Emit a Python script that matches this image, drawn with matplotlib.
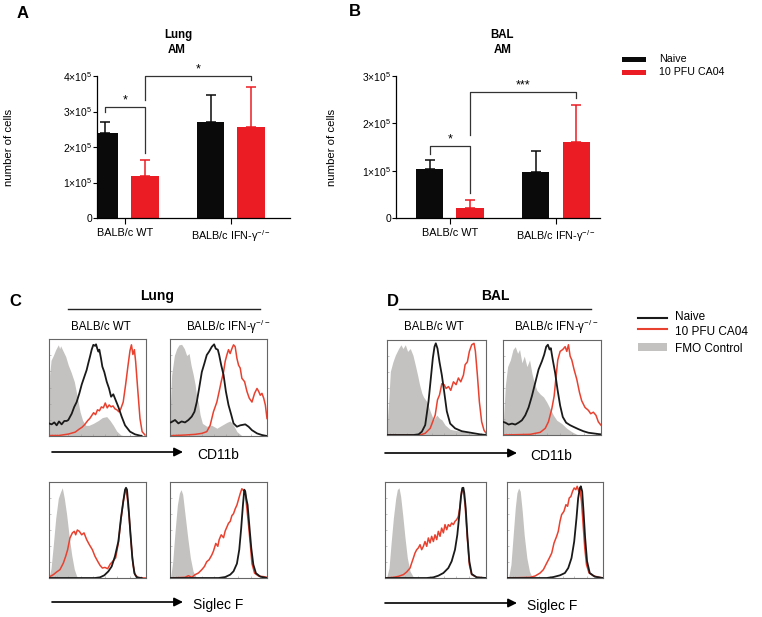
import numpy as np
import matplotlib
matplotlib.use('Agg')
import matplotlib.pyplot as plt
from matplotlib.patches import Rectangle
from matplotlib.lines import Line2D

plt.rcParams['font.family'] = ['Liberation Sans', 'DejaVu Sans']
plt.rcParams['mathtext.fontset'] = 'custom'
plt.rcParams['mathtext.rm'] = 'Liberation Sans'
plt.rcParams['mathtext.it'] = 'Liberation Sans:italic'
plt.rcParams['mathtext.bf'] = 'Liberation Sans:bold'
plt.rcParams['mathtext.default'] = 'regular'

W, H = 762, 617

# ---- data: bar charts (cells) ----
groups = ['BALB/c WT', 'BALB/c IFN-γ$^{-/-}$']
lung_naive = [2.40e5, 2.70e5]
lung_naive_err = [0.30e5, 0.77e5]
lung_ca04 = [1.18e5, 2.57e5]
lung_ca04_err = [0.45e5, 1.13e5]
bal_naive = [1.04e5, 0.97e5]
bal_naive_err = [0.19e5, 0.45e5]
bal_ca04 = [0.21e5, 1.60e5]
bal_ca04_err = [0.17e5, 0.79e5]

# ---- data: flow histograms (x = % of axis, y = % of max) ----
c1_gray = [(0,0),(0.7,63),(2.1,78),(4.5,83),(6.9,89),(9.6,94),(11,90),(12,93),(14.8,87),(17.2,82),(19.9,73),(22.7,66),(26.1,56),(29.2,40),(32,25),(34.7,16),(37.8,11),(41.2,11),(45.7,13),(50.9,16),(55,19),(59.5,20),(62.9,16),(66.3,11),(69.8,5),(74.2,1),(78.4,0)]
c1_black = [(0,13),(2.7,12),(5.5,14),(7.9,11),(10.3,15),(13,12),(15.8,15.5),(18.2,15.5),(19.9,16.5),(23.4,23),(26,30),(28.5,35),(31.3,44),(33.7,53),(36.4,61),(38.8,68),(40.5,75),(42.3,82),(44,89),(45.7,94),(47.4,93),(48.5,94.5),(49.8,90),(50.9,87),(51.9,89),(53.6,80),(55,71.5),(57,66),(59.5,56),(61.9,49),(64,40.5),(66.3,43),(68.7,37),(71.5,30),(74.9,20),(78.4,11),(83.5,4.5),(88.7,1.7),(95.5,0)]
c1_red = [(0,0.5),(10,0.5),(20,2),(27,4),(31,7),(34,9),(37,12),(40,16),(42,18),(44,21),(46,24),(48,22),(50,27),(52,26),(54,30),(56,29),(58,34),(60,29),(62,32),(64,30),(66,31),(68,28),(70,27),(72,25),(74,28),(76.5,35),(79,53),(81.5,73),(83.5,88),(85,94),(86.5,84),(88,89),(89.3,77),(91.4,49),(93.8,18),(96,4.5),(99,1)]

c2_gray = [(0,0),(0.3,30),(1.7,63),(4.5,83),(6.9,90),(9.3,94),(12,94.5),(14.8,90),(17.2,83),(19.7,85),(21.7,73),(24,63),(25.9,53),(27.6,40),(29.3,34),(31,22),(33.4,13),(37.9,10),(43.1,11),(48.3,8),(53.4,11),(58.6,14),(62,15.5),(65.5,11),(69,4.5),(74.1,0.3)]
c2_black = [(0,14),(1,14),(5.2,16.5),(8.6,13),(12,15),(15.5,14),(19,16.5),(22.4,20),(25.2,25),(27.6,35),(30,49),(32.8,66),(35.5,75),(37.9,83.5),(40.3,87),(43.1,92),(45.5,94.5),(47.2,90),(49.3,89),(50.7,83.5),(52.8,73),(55.2,63),(57.6,46),(60.3,32),(63.1,22),(65.5,13),(69,9.6),(72.4,11),(77.6,12),(81,9.6),(84.5,6),(89.7,2.7),(94.8,1),(100,0)]
c2_red = [(0,0.3),(15.5,1),(25.9,1.7),(32.8,2.7),(37.9,4.5),(41.4,11),(44.8,25),(48.3,35),(50.7,46),(52.8,56),(55.2,66),(56.9,77),(58.6,83.5),(60.3,89),(62,85),(63.8,90),(65.5,94),(67.2,92),(69,80),(70.7,73),(72.4,70),(74.1,59.5),(76.9,56),(79.3,46),(81.7,39),(84.5,35),(87.2,44),(89.7,49),(91.4,46),(93.1,42),(94.8,44),(96.6,39),(98.3,32),(100,18)]

d1_gray = [(0,0),(0.7,20),(1.7,35),(3.4,67),(6,77),(8.4,84),(11.7,91),(14.1,95),(16.1,91),(18.5,95),(20.8,88),(23.5,91),(26.2,84),(28.5,74),(30.9,63),(32.9,53),(35.2,44),(36.9,40),(40.3,35),(43.6,25),(47,16),(50.3,21),(53,17.5),(55.4,16),(58.7,10.5),(63.8,6),(70.5,4.6),(77.2,3.5),(83.9,1.8),(90.6,0.7),(95,0)]
d1_black = [(0,0),(26.8,0),(31.9,0.7),(35.2,3.5),(38.6,10.5),(41.9,35),(44.3,60),(46.3,81),(48,93),(49.3,96.5),(51,91),(53,77),(55.4,63),(57.7,46),(60.4,25),(63.8,12),(68.8,7),(75.5,4),(83.9,2.5),(94,0.7),(100,0)]
d1_red = [(0,0),(33.6,0),(38.6,1.8),(43.6,7),(48.7,21),(51,37),(53,42),(55.4,54),(57.7,53),(59.7,49),(62.1,51),(64.4,47),(67.1,56),(69.8,53),(72.1,60),(74.5,56),(77.2,63),(78.9,74),(81.2,77),(83.2,88),(85.6,95),(87.9,96.5),(89.3,88),(91.3,63),(93.3,35),(95.6,14),(98,5),(100,2)]

d2_gray = [(0,0),(0.7,20),(2.4,52),(4.7,72),(7.5,79),(10.2,90),(12.5,93),(14.9,86),(16.9,90),(19.3,76),(21.7,83),(24.4,72),(27.1,79),(29.5,65),(31.9,55),(34.6,47),(38,43),(41.4,40),(44.7,34.5),(48.1,27.6),(51.5,20.7),(54.9,15.5),(60,12),(65.1,7),(70.2,3.4),(75.3,0.7),(80,0)]
d2_black = [(0,13.8),(2.4,13),(5.8,11),(9.2,12),(12.5,11),(15.9,13),(19.3,15.5),(22.7,20.7),(26.1,29),(29.5,41),(32.9,55),(36.3,69),(39.7,77.6),(42,84.5),(44.1,93),(45.8,95),(47.5,90),(48.8,91.4),(50.8,79),(53.2,65.5),(55.6,48),(58.3,31),(61,19),(64.4,13),(68.5,10.3),(71.9,8.6),(76.9,6.2),(82,4),(87.1,2.4),(92.2,1.7),(97.3,1),(100,0.7)]
d2_red = [(0,0),(27.8,0.7),(38,2.8),(43.1,7),(46.4,14),(49.8,27.6),(52.2,41),(54.2,62),(55.9,79),(58.3,88),(61,90),(63.4,93),(65.1,88),(66.8,95),(68.5,83),(70.2,79),(72.5,69),(75.3,58.6),(78,45),(80.3,36),(83.7,29),(87.1,26),(89.5,22.4),(92.2,24),(94.9,20.7),(97.3,13.8),(100,10.3)]

c3_gray = [(0,0),(2.1,10),(4.5,35),(6.9,62),(9.6,83),(12,90),(13.7,94),(15.8,83),(18.2,66),(20.6,45),(23.4,24),(26.1,9),(28.5,2),(30.2,0)]
c3_black = [(0,0),(47.4,0),(52.6,0.7),(57,2.8),(61.2,6.9),(64.6,12),(68,22.6),(71.5,38),(74.2,62.5),(76.6,80),(78.4,92),(79.4,94),(80.4,92),(81.8,76),(83.8,48.6),(85.9,21),(88,5),(90.4,0.7),(95.5,0)]
c3_red = [(0,1),(4.5,3.5),(7.9,6.3),(11.3,8.7),(14.8,15.6),(17.2,22.6),(19.2,29.5),(21.6,41.7),(24.1,47),(26.1,48.6),(27.5,45),(29.2,50),(31.3,48.6),(33.7,45),(36.1,47),(38.8,40),(41.6,34.7),(44.7,29.5),(47.4,22.6),(50.2,17.4),(52.6,13.2),(55,10.4),(57.7,11),(60.5,9.7),(63.2,14.6),(66.3,18),(68.7,21),(71.5,36.5),(74.2,61),(76.6,80),(78.4,90),(79.4,93),(80.8,83),(82.5,66),(84.5,38),(86.6,14),(88.7,3.5),(92.1,0.3),(100,0)]

c4_gray = [(0,0),(0.7,1),(2.8,17),(5.2,48.6),(7.6,76),(9.7,88.5),(11.4,92),(13.1,87),(15.5,66),(18.3,42),(21,21),(23.8,7),(26.6,1.4),(29.3,0)]
c4_black = [(0,0),(50,0),(56.9,1),(62.1,3.5),(65.5,7),(69,15),(71.4,29.5),(73.4,52),(75.2,76),(76.6,92),(77.6,90),(78.6,83),(80,76),(81.7,55.6),(83.8,31),(85.9,14),(88.6,5),(93.1,1.4),(100,0)]
c4_red = [(0,0),(15.5,0.7),(19,2.4),(22.4,0.7),(25.9,3.5),(29.3,5.2),(32.8,8.7),(35.5,12),(37.9,17),(40.3,19),(43.1,24),(44.8,28),(47.2,36),(49.3,33),(50.7,40),(52.8,45),(55.2,42),(56.9,49),(58.6,53),(60.3,57),(62.1,59),(63.8,65),(65.5,67),(67.2,72),(69,76),(70.7,82),(72.4,88),(74.1,93),(75.9,91),(77.6,88),(79.3,72),(81,55),(82.8,35),(84.5,15),(87.2,5),(91.4,2),(96.6,1.4),(100,0.7)]

d3_gray = [(0,0),(1.7,1),(4,10.4),(5.9,34.7),(8.3,62.5),(10.6,83),(12.2,92),(13.9,94),(15.5,85),(17.5,66),(19.8,42),(22.1,21),(24.8,7),(28.1,1),(31.4,0)]
d3_black = [(0,0),(41.3,0),(47.9,0.7),(52.8,2.4),(57.8,5.2),(62.7,10.4),(66,17.4),(69.3,29.5),(71.6,45),(73.6,66),(75.2,85),(76.6,93.8),(77.6,94),(78.5,88.5),(79.9,73),(81.5,45),(83.5,17.4),(85.8,4.2),(90.8,0.7),(100,0)]
d3_red = [(0,0),(8.3,0.7),(13.2,1.7),(18.2,3.5),(21.5,6.3),(24.8,10.4),(26.4,15.6),(28.1,20.8),(29.7,26),(31.4,29.5),(33,31.3),(34.7,34.7),(36.3,29.5),(38,33),(39.6,38),(41.3,33),(42.9,41.7),(44.6,36.5),(46.2,43.4),(47.9,38),(49.5,45),(51.2,40),(52.8,48.6),(54.5,43.4),(56.1,52),(57.8,47),(59.4,55.6),(61.1,50.3),(62.7,55.6),(64.4,53.8),(66,57.3),(67.7,55.6),(69.3,59),(71,60.8),(72.6,64.2),(74.3,74.7),(75.9,90.3),(76.9,93.8),(78.2,86.8),(79.5,72.9),(81.5,41.7),(83.5,13.9),(85.8,3.5),(90.8,0.7),(100,0)]

d4_gray = [(0,0),(1.7,1),(4.1,13.9),(6.2,41.7),(8.6,72.9),(10.3,88.5),(12.1,93.8),(13.8,90.3),(15.9,69.4),(17.9,45),(20.7,20.8),(23.4,6.9),(26.2,1),(29.3,0)]
d4_black = [(0,0),(41.4,0),(48.3,1),(55.2,2.8),(60.3,5.2),(63.8,10.4),(67.2,20.8),(70,38),(72.4,62.5),(74.1,83),(75.9,93.8),(76.9,95.5),(78.3,90.3),(79.7,69.4),(81.4,41.7),(83.4,17.4),(86.2,5.2),(91.4,1.4),(100,0)]
d4_red = [(0,0),(24.1,0.7),(29.3,2.1),(34.5,5.2),(37.9,8.7),(41.4,15.6),(44.1,20.8),(46.6,26),(49,36.5),(51.7,43.4),(53.4,48.6),(55.2,59),(56.9,66),(59.3,69.4),(61.4,76.4),(63.1,74.7),(64.8,83.3),(66.6,85),(68.3,90.3),(70,93.8),(71.7,92),(73.1,95.5),(74.8,90.3),(75.9,93.8),(77.6,79.9),(79.3,55.6),(81,31.3),(82.8,13.9),(85.5,5.2),(89.7,2.4),(94.8,1),(100,0)]

BAR_BLACK = '#0a0a0a'
BAR_RED = '#ec1c24'
HIST_RED = '#e8412f'
HIST_BLACK = '#1a1a1a'
FMO = '#c4c2c0'


def px_axes(fig, x0, y0, x1, y1):
    # rectangle given in pixel coords of the 762x617 picture
    return fig.add_axes([x0 / W, 1 - y1 / H, (x1 - x0) / W, (y1 - y0) / H])


fig = plt.figure(figsize=(W / 100, H / 100), dpi=100)

# overlay axes in pixel units for panel letters, headers, arrows, legends
ov = fig.add_axes([0, 0, 1, 1])
ov.set_xlim(0, W)
ov.set_ylim(H, 0)
ov.axis('off')


def bar_panel(rect, naive, naive_err, ca04, ca04_err, ymax, xlim, brackets):
    ax = px_axes(fig, *rect)
    x = np.arange(len(groups))
    off, bw = 0.189, 0.255
    ax.bar(x - off, naive, bw, color=BAR_BLACK, zorder=2)
    ax.bar(x + off, ca04, bw, color=BAR_RED, zorder=2)
    ax.errorbar(x - off, naive, yerr=[np.zeros(2), naive_err], fmt='none',
                ecolor=BAR_BLACK, elinewidth=1.1, capsize=3.4, capthick=1.1, zorder=1)
    ax.errorbar(x + off, ca04, yerr=[np.zeros(2), ca04_err], fmt='none',
                ecolor=BAR_RED, elinewidth=1.1, capsize=3.4, capthick=1.1, zorder=1)
    ax.set_xlim(*xlim)
    ax.set_ylim(0, ymax)
    ticks = np.arange(0, ymax + 1, 1e5)
    ax.set_yticks(ticks)
    ax.set_yticklabels(['0'] + ['%d\u00d710$^{5}$' % int(t / 1e5) for t in ticks[1:]],
                       fontsize=7.5)
    ax.set_xticks(x)
    ax.set_xticklabels(groups, fontsize=7.8)
    ax.tick_params(axis='y', length=3, width=0.8, pad=0.5)
    ax.tick_params(axis='x', length=4, width=0.8, pad=3)
    for s in ['top', 'right']:
        ax.spines[s].set_visible(False)
    for s in ['left', 'bottom']:
        ax.spines[s].set_linewidth(0.9)
    ax.set_ylabel('number of cells', fontsize=8.2)
    # significance brackets: (x left, x right, y top, y left leg, y right leg, label)
    for xl, xr, yt, yl, yr, lab in brackets:
        ax.plot([xl, xl, xr, xr], [yl, yt, yt, yr], color='#333333', lw=0.9,
                clip_on=False, zorder=3)
        ax.annotate(lab, ((xl + xr) / 2, yt), xytext=(0, 0.5), textcoords='offset points',
                    ha='center', va='bottom', fontsize=9, annotation_clip=False)
    return ax


axA = bar_panel((97, 76, 290, 218), lung_naive, lung_naive_err, lung_ca04, lung_ca04_err,
                4e5, (-0.264, 1.557),
                [(-0.189, 0.189, 3.13e5, 2.98e5, 1.83e5, '*'),
                 (0.189, 1.189, 4.0e5, 3.32e5, 3.89e5, '*')])
axA.yaxis.set_label_coords(-0.43, 0.5)

axB = bar_panel((396, 76, 600, 218), bal_naive, bal_naive_err, bal_ca04, bal_ca04_err,
                3e5, (-0.509, 1.415),
                [(-0.189, 0.189, 1.52e5, 1.35e5, 0.53e5, '*'),
                 (0.189, 1.189, 2.66e5, 1.75e5, 2.54e5, '***')])
axB.yaxis.set_label_coords(-0.29, 0.5)


def hist_panel(rect, gray, black, red):
    ax = px_axes(fig, *rect)
    g = np.array(gray).T
    b = np.array(black).T
    r = np.array(red).T
    ax.fill_between(g[0], g[1], 0, color=FMO, lw=0, zorder=1)
    ax.plot(r[0], r[1], color=HIST_RED, lw=1.1, zorder=2)
    ax.plot(b[0], b[1], color=HIST_BLACK, lw=1.3, zorder=3)
    ax.set_xlim(0, 100)
    ax.set_ylim(0, 100)
    ax.set_yticks(np.linspace(0, 100, 7))
    ax.set_xticks([3, 6, 8, 20, 33, 45, 58, 70, 83, 95])
    ax.set_xticklabels([])
    ax.set_yticklabels([])
    ax.tick_params(length=1.5, width=0.4, color='#999999', direction='in')
    for s in ax.spines.values():
        s.set_linewidth(0.8)
        s.set_color('#666666')
    return ax


hist_panel((49, 339, 146, 436), c1_gray, c1_black, c1_red)
hist_panel((170, 339, 267, 436), c2_gray, c2_black, c2_red)
hist_panel((387, 340, 486, 435), d1_gray, d1_black, d1_red)
hist_panel((503, 340, 601, 435), d2_gray, d2_black, d2_red)
hist_panel((49, 482, 146, 578), c3_gray, c3_black, c3_red)
hist_panel((170, 482, 267, 578), c4_gray, c4_black, c4_red)
hist_panel((385, 482, 486, 578), d3_gray, d3_black, d3_red)
hist_panel((507, 482, 603, 578), d4_gray, d4_black, d4_red)

# panel letters
for lab, x, y in [('A', 23, 13), ('B', 355, 12), ('C', 15, 301), ('D', 393, 301)]:
    ov.text(x, y, lab, fontsize=12, fontweight='bold', ha='center', va='center')

# bar chart titles
for t, x, y in [('Lung', 178, 35), ('AM', 177, 50), ('BAL', 502, 35), ('AM', 503, 50)]:
    ov.text(x, y, t, fontsize=8.3, fontweight='bold', ha='center', va='center')

# legend A/B
for (lab, col), y in zip([('Naive', BAR_BLACK), ('10 PFU CA04', BAR_RED)], [59, 72]):
    ov.add_patch(Rectangle((622, y - 2.5), 24, 5, color=col, lw=0))
    ov.text(659, y, lab, fontsize=7.7, ha='left', va='center')

# flow headers
for t, x, x0, x1 in [('Lung', 157, 68, 260), ('BAL', 495, 399, 591)]:
    ov.text(x, 296, t, fontsize=10, fontweight='bold', ha='center', va='center')
    ov.add_line(Line2D([x0, x1], [309, 309], color='#222222', lw=1))
for t, x in [(groups[0], 100.5), (groups[1], 228), (groups[0], 434), (groups[1], 556)]:
    ov.text(x, 327, t, fontsize=8.3, ha='center', va='center')

# legend D
ov.add_line(Line2D([638, 667], [318, 318], color=HIST_BLACK, lw=1.5))
ov.add_line(Line2D([638, 667], [329, 329], color=HIST_RED, lw=1.5))
ov.add_patch(Rectangle((638, 343), 29, 8, color=FMO, lw=0))
for lab, y in [('Naive', 317), ('10 PFU CA04', 332), ('FMO Control', 349)]:
    ov.text(675, y, lab, fontsize=8.5, ha='left', va='center')

# axis arrows
for x0, x1, y, lab, xt in [(52, 183, 452, 'CD11b', 197), (52, 183, 602, 'Siglec F', 193),
                           (385, 517, 453, 'CD11b', 530), (385, 517, 603, 'Siglec F', 527)]:
    ov.annotate('', xy=(x1, y), xytext=(x0, y),
                arrowprops=dict(arrowstyle='-|>', color='black', lw=1.2, mutation_scale=13,
                                shrinkA=0, shrinkB=0))
    ov.text(xt, y + 3, lab, fontsize=10, ha='left', va='center')

fig.savefig('out.png', dpi=100)
